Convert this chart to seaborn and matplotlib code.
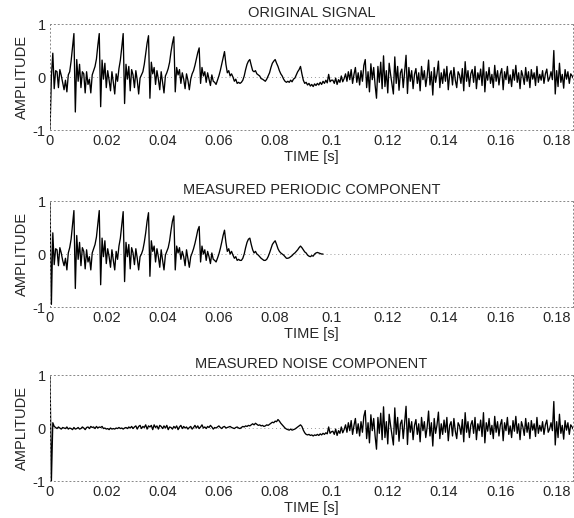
import numpy as np
import pandas as pd
import seaborn as sns
import matplotlib
matplotlib.use("Agg")
import matplotlib.pyplot as plt

# ==[ Data ]===============================================================
dt = 0.0005  # sample step in seconds

# periodic component, 0 .. 0.097 s
periodic = [
    0.98, -0.95, 0.40, -0.20, 0.10, 0.08, -0.22, 0.12, 0.02, -0.12,
    -0.22, -0.08, -0.30, 0.02, 0.12, 0.28, 0.55, 0.82, -0.65, 0.35,
    -0.10, 0.22, -0.22, 0.12, 0.05, -0.28, 0.08, -0.15, -0.05, -0.30,
    0.02, 0.10, 0.18, 0.32, 0.58, 0.82, -0.58, 0.30, -0.05, 0.25,
    -0.18, 0.10, -0.05, -0.25, 0.08, -0.12, -0.30, 0.05, -0.10, 0.15,
    0.30, 0.55, 0.80, -0.52, 0.22, -0.05, 0.18, -0.28, 0.12, 0.02,
    -0.20, 0.10, -0.08, -0.30, -0.05, 0.00, 0.08, 0.22, 0.40, 0.62,
    0.78, -0.42, 0.25, 0.05, 0.15, -0.15, 0.10, -0.05, -0.25, 0.08,
    -0.12, -0.30, -0.02, 0.05, 0.12, 0.25, 0.45, 0.62, 0.72, -0.30,
    0.15, 0.02, 0.12, -0.10, 0.05, -0.05, -0.22, 0.08, -0.08, -0.25,
    -0.05, 0.02, 0.10, 0.20, 0.32, 0.45, 0.52, -0.15, 0.15, 0.00,
    0.08, -0.12, 0.05, -0.05, -0.18, 0.02, -0.10, -0.12, -0.15, -0.08,
    0.00, 0.10, 0.22, 0.35, 0.45, 0.22, 0.05, 0.10, 0.00, 0.05,
    -0.02, -0.08, -0.05, -0.12, -0.10, -0.12, -0.12, -0.08, 0.00, 0.12,
    0.22, 0.28, 0.30, 0.18, 0.08, 0.02, 0.05, 0.00, -0.02, -0.05,
    -0.08, -0.10, -0.12, -0.12, -0.10, -0.05, 0.02, 0.10, 0.18, 0.22,
    0.25, 0.18, 0.10, 0.05, 0.02, 0.00, -0.02, -0.05, -0.08, -0.08,
    -0.07, -0.05, -0.03, 0.00, 0.02, 0.05, 0.08, 0.12, 0.15, 0.12,
    0.08, 0.04, 0.02, -0.02, -0.04, -0.05, -0.03, -0.04, 0.00, 0.02,
    0.03, 0.02, 0.01, 0.00, 0.00,
]

# original signal, 0 .. 0.100 s
original_head = [
    -1.00, 0.00, 0.45, -0.22, 0.12, 0.10, -0.20, 0.14, 0.03, -0.10,
    -0.24, -0.06, -0.28, 0.04, 0.10, 0.30, 0.56, 0.82, -0.66, 0.33,
    -0.08, 0.24, -0.20, 0.10, 0.06, -0.30, 0.10, -0.14, -0.04, -0.30,
    0.04, 0.12, 0.20, 0.34, 0.60, 0.82, -0.56, 0.32, -0.04, 0.26,
    -0.20, 0.12, -0.06, -0.26, 0.10, -0.10, -0.32, 0.06, -0.08, 0.16,
    0.32, 0.56, 0.82, -0.50, 0.24, -0.04, 0.20, -0.26, 0.14, 0.04,
    -0.20, 0.12, -0.06, -0.32, -0.02, 0.04, 0.10, 0.24, 0.44, 0.64,
    0.78, -0.40, 0.28, 0.06, 0.18, -0.14, 0.12, -0.04, -0.24, 0.10,
    -0.10, -0.30, 0.02, 0.08, 0.16, 0.28, 0.48, 0.64, 0.76, -0.28,
    0.18, 0.04, 0.14, -0.12, 0.08, -0.04, -0.22, 0.06, -0.06, -0.24,
    -0.04, 0.06, 0.12, 0.22, 0.34, 0.46, 0.55, -0.12, 0.18, 0.02,
    0.10, -0.10, 0.08, -0.04, -0.16, 0.04, -0.08, -0.10, -0.14, -0.06,
    0.02, 0.12, 0.24, 0.36, 0.48, 0.24, 0.08, 0.12, 0.02, 0.06,
    0.00, -0.08, -0.04, -0.12, -0.10, -0.12, -0.10, -0.06, 0.02, 0.14,
    0.24, 0.30, 0.33, 0.22, 0.12, 0.10, 0.12, 0.06, 0.04, 0.02,
    -0.03, -0.04, -0.06, -0.08, -0.04, 0.02, 0.08, 0.18, 0.26, 0.30,
    0.33, 0.26, 0.20, 0.12, 0.06, 0.02, -0.04, -0.08, -0.10, -0.08,
    -0.10, -0.06, -0.09, -0.04, -0.02, 0.04, 0.10, 0.14, 0.20, 0.06,
    -0.06, -0.12, -0.10, -0.15, -0.12, -0.17, -0.14, -0.18, -0.13, -0.16,
    -0.12, -0.15, -0.10, -0.14, -0.08, -0.12, -0.06, -0.11, 0.05, -0.09,
    -0.06,
]

# noise component, 0 .. 0.100 s
noise_head = [
    1.00, -1.00, 0.10, 0.03, 0.01, -0.01, 0.02, 0.00, -0.02, 0.01,
    0.00, -0.01, 0.02, -0.02, 0.00, -0.01, -0.03, 0.01, -0.02, -0.01,
    0.01, -0.02, -0.01, 0.02, 0.00, -0.03, 0.01, 0.02, -0.01, 0.03,
    0.01, 0.02, -0.01, 0.03, 0.00, 0.02, 0.01, 0.03, -0.01, 0.00,
    -0.02, -0.01, -0.03, 0.00, -0.02, -0.01, -0.02, 0.00, -0.01, 0.01,
    -0.01, 0.00, -0.02, 0.00, 0.01, -0.01, 0.02, 0.00, 0.03, -0.01,
    0.02, 0.04, -0.02, 0.03, 0.05, -0.01, 0.03, 0.01, 0.06, -0.02,
    0.04, 0.02, 0.05, -0.03, 0.06, 0.01, 0.04, -0.02, 0.05, 0.03,
    -0.01, 0.04, 0.00, 0.05, -0.03, 0.02, 0.01, -0.02, 0.03, 0.00,
    0.04, -0.03, 0.02, 0.05, -0.01, 0.03, 0.00, 0.02, -0.02, 0.01,
    0.03, -0.02, 0.01, 0.05, 0.00, 0.04, -0.01, 0.02, 0.06, 0.00,
    0.02, -0.01, 0.03, 0.01, 0.05, 0.02, -0.02, 0.01, 0.00, 0.02,
    0.04, 0.01, -0.01, 0.02, 0.03, 0.00, 0.01, 0.02, 0.03, 0.01,
    0.00, -0.01, 0.01, 0.02, 0.00, -0.01, 0.01, 0.03, 0.02, 0.04,
    0.03, 0.05, 0.04, 0.06, 0.08, 0.06, 0.09, 0.07, 0.05, 0.06,
    0.04, 0.05, 0.03, 0.04, 0.06, 0.05, 0.07, 0.09, 0.11, 0.10,
    0.13, 0.12, 0.16, 0.13, 0.09, 0.06, 0.03, 0.00, -0.02, -0.03,
    -0.04, -0.02, -0.04, -0.03, -0.02, 0.00, 0.02, 0.04, 0.06, 0.03,
    -0.04, -0.09, -0.12, -0.13, -0.12, -0.14, -0.13, -0.15, -0.13, -0.14,
    -0.12, -0.14, -0.11, -0.13, -0.10, -0.12, -0.09, -0.11, 0.02, -0.10,
    -0.07,
]

# 0.1005 .. 0.186 s: periodic part has died out, original and noise coincide
noise_tail = [
    -0.06, -0.12, -0.02, -0.14, -0.05, -0.10, 0.02, -0.09, -0.03, 0.06,
    -0.08, 0.10, -0.05, 0.14, -0.12, 0.05, 0.18, -0.10, 0.08, -0.15,
    0.12, -0.08, 0.22, 0.33, -0.20, 0.10, -0.28, 0.25, -0.05, 0.18,
    -0.15, -0.40, 0.20, -0.10, 0.28, -0.22, 0.40, -0.18, 0.12, -0.30,
    0.26, 0.05, -0.14, -0.32, 0.38, -0.12, 0.20, -0.25, 0.08, 0.15,
    -0.20, 0.10, 0.41, -0.31, 0.18, -0.08, 0.12, -0.22, 0.05, 0.16,
    -0.12, 0.08, -0.26, 0.20, -0.05, 0.12, -0.18, 0.02, 0.32, -0.15,
    0.10, -0.34, 0.18, -0.10, 0.06, 0.30, -0.20, 0.08, -0.12, 0.15,
    -0.08, 0.20, -0.24, 0.05, 0.12, -0.15, 0.18, -0.06, -0.20, 0.10,
    0.04, -0.12, 0.16, -0.26, 0.29, -0.08, 0.12, -0.18, 0.06, 0.14,
    -0.10, 0.20, -0.22, 0.08, -0.05, 0.15, -0.16, 0.29, -0.28, 0.10,
    -0.06, 0.18, -0.12, 0.05, -0.20, 0.22, -0.08, 0.12, -0.15, 0.06,
    0.16, -0.24, 0.10, -0.05, 0.20, -0.12, 0.04, -0.18, 0.14, -0.06,
    0.22, -0.10, 0.08, -0.22, 0.12, 0.02, -0.14, 0.18, -0.08, 0.10,
    -0.20, 0.14, -0.04, 0.08, -0.16, 0.20, -0.10, 0.05, -0.06, 0.12,
    -0.12, 0.06, 0.15, -0.08, -0.02, 0.10, -0.05, 0.50, -0.32, 0.12,
    -0.18, 0.26, -0.10, 0.05, -0.21, 0.14, -0.04, 0.10, -0.12, 0.06,
    0.02, -0.03,
]

titles = ["ORIGINAL SIGNAL", "MEASURED PERIODIC COMPONENT", "MEASURED NOISE COMPONENT"]
x_ticks = [0, 0.02, 0.04, 0.06, 0.08, 0.1, 0.12, 0.14, 0.16, 0.18]
x_tick_labels = ["0", "0.02", "0.04", "0.06", "0.08", "0.1", "0.12", "0.14", "0.16", "0.18"]
y_ticks = [-1, 0, 1]
y_tick_labels = ["-1", "0", "1"]

# ==[ Build frames ]=======================================================
original = original_head + noise_tail
noise = noise_head + noise_tail
series = [original, periodic, noise]
frames = [pd.DataFrame({"time": np.arange(len(s)) * dt, "amp": s}) for s in series]

# ==[ Plot ]===============================================================
sns.set_style("white")
plt.rcParams["font.family"] = ["Liberation Sans", "DejaVu Sans"]
plt.rcParams["axes.unicode_minus"] = False

fig = plt.figure(figsize=(5.74, 5.18), dpi=100)
bottoms = [0.749, 0.4073, 0.0714]

for df, title, b in zip(frames, titles, bottoms):
    ax = fig.add_axes([0.0871, b, 0.9111, 0.2046])
    ax.axhline(0, color="#999999", lw=0.7, ls=(0, (1, 3)), zorder=0)
    sns.lineplot(data=df, x="time", y="amp", ax=ax, color="black",
                 lw=0.95, estimator=None, errorbar=None)
    ax.set_xlim(0, 0.1858)
    ax.set_ylim(-1, 1)
    ax.set_xticks(x_ticks)
    ax.set_xticklabels(x_tick_labels)
    ax.set_yticks(y_ticks)
    ax.set_yticklabels(y_tick_labels)
    ax.tick_params(direction="in", length=2, width=0.6, color="#777777",
                   labelsize=10.5, pad=3)
    for sp in ax.spines.values():
        sp.set_linestyle((0, (1, 3)))
        sp.set_color("#888888")
        sp.set_linewidth(0.7)
    ax.set_title(title, fontsize=10.5, pad=5)
    ax.set_xlabel("TIME [s]", fontsize=10.5, labelpad=1)
    ax.set_ylabel("AMPLITUDE", fontsize=10.5, labelpad=3)

fig.savefig("out.png", dpi=100)
